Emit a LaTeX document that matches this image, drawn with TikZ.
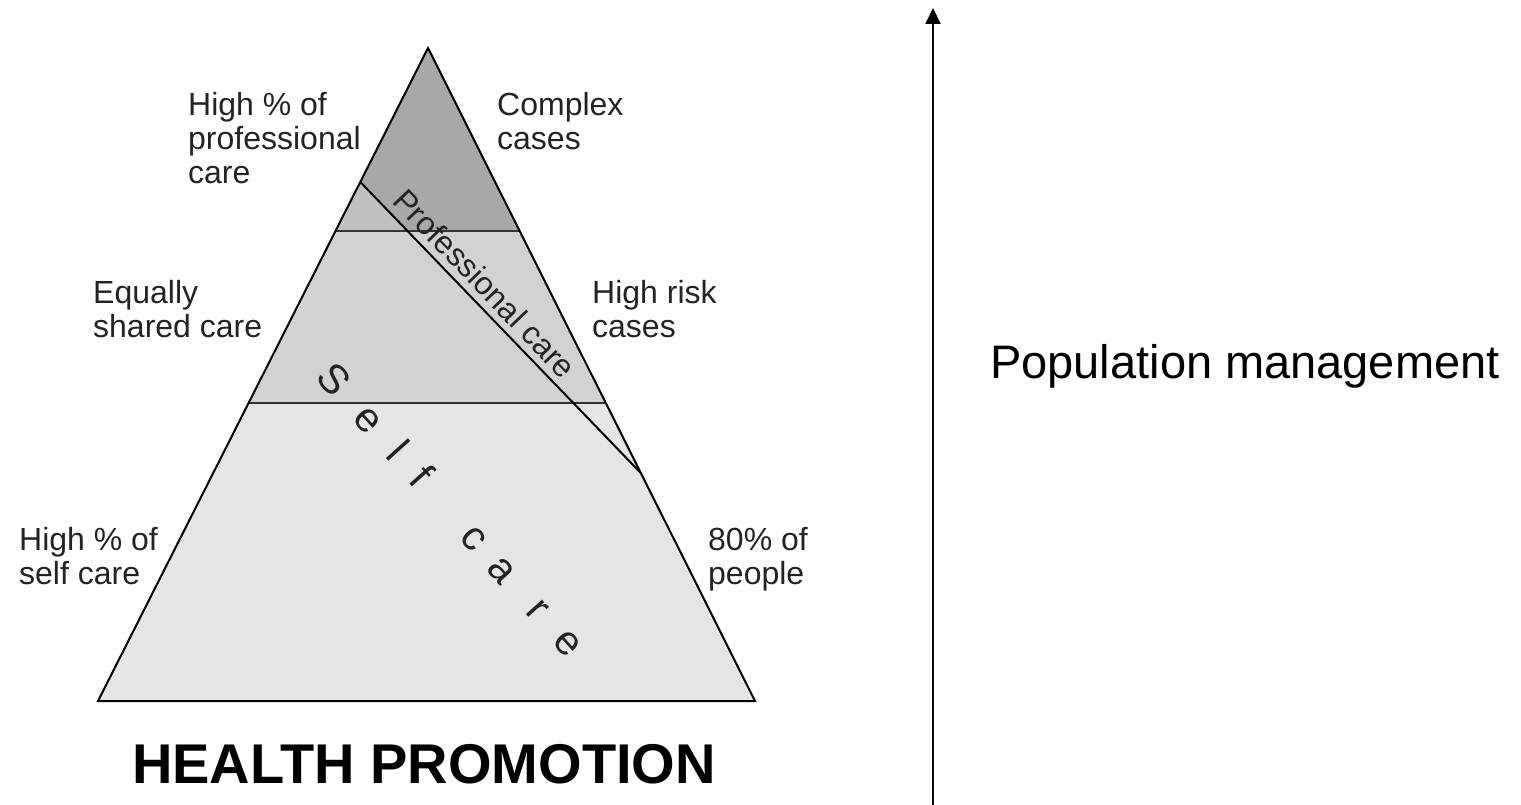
\documentclass[tikz,border=0pt]{standalone}
\usepackage{fontspec}
\setmainfont{Liberation Sans}
\usetikzlibrary{arrows.meta}
\definecolor{gdark}{RGB}{168,168,170}
\definecolor{gmidA}{RGB}{192,192,194}
\definecolor{gmid}{RGB}{210,210,212}
\definecolor{glight}{RGB}{229,229,231}
\definecolor{txtc}{RGB}{35,35,35}
\tikzset{
  lbl/.style={font=\fontsize{32}{34}\selectfont, align=left, inner sep=0pt, anchor=north west, text=txtc},
  edge/.style={line width=2pt, draw=black},
  band/.style={line width=1.8pt, draw=black!80},
  selfl/.style={font=\fontsize{41}{43}\selectfont, inner sep=0pt, anchor=base, rotate=-48, text=txtc},
}
\begin{document}
\begin{tikzpicture}[x=1pt,y=-1pt]
\useasboundingbox (0,0) rectangle (1521,805);
% triangle corners
\coordinate (T) at (428,48);
\coordinate (L) at (98,701);
\coordinate (R) at (755,701);
% band points
\coordinate (l1) at (335.5,231);
\coordinate (r1) at (519.6,231);
\coordinate (l2) at (248.6,403);
\coordinate (r2) at (605.8,403);
\coordinate (dA) at (360.3,182);
\coordinate (dB) at (640.8,473);
\coordinate (d1) at (407.5,231);
% fills
\fill[glight] (T) -- (L) -- (R) -- cycle;
\fill[gmid] (l2) -- (l1) -- (r1) -- (r2) -- cycle;
\fill[gmidA] (l1) -- (dA) -- (d1) -- cycle;
\fill[gdark] (dA) -- (T) -- (r1) -- (d1) -- cycle;
% lines
\draw[band] (l1) -- (r1);
\draw[band] (l2) -- (r2);
\draw[edge] (dA) -- (dB);
\draw[edge, line join=miter] (T) -- (L) -- (R) -- cycle;
% diagonal label
\node[font=\fontsize{32}{34}\selectfont, rotate=-46.2, inner sep=0pt, text=txtc] (prof) at (485,283.5) {Professional care};
% self care letters
\foreach \ch/\t [count=\i] in {S/0,e/52,l/95,f/130,c/211,a/253,r/307,e/352}
  \node[selfl] (sc\i) at ({324+0.668*\t},{389+0.745*\t}) {\ch};
% side labels
\node[lbl] (hp) at (188,92) {High \% of\\professional\\care};
\node[lbl] (cx) at (497,92) {Complex\\cases};
\node[lbl] (eq) at (93,280) {Equally\\shared care};
\node[lbl] (hr) at (592,280) {High risk\\cases};
\node[lbl] (hs) at (19,527) {High \% of\\self care};
\node[lbl] (pp) at (708,527) {80\% of\\people};
% title
\node[font=\fontsize{56}{60}\selectfont\bfseries, inner sep=0pt] (hpromo) at (424,764) {HEALTH PROMOTION};
% arrow
\coordinate (abot) at (933,805);
\coordinate (atop) at (933,8);
\draw[line width=2pt, -{Triangle[width=15pt,length=16pt]}] (abot) -- (atop);
\node[font=\fontsize{47}{50}\selectfont, anchor=west, inner sep=0pt] (pop) at (990,366) {Population management};
\end{tikzpicture}
\end{document}
